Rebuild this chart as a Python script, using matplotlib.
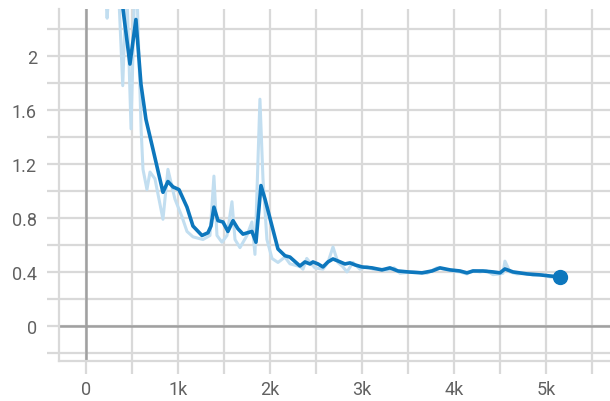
import matplotlib
matplotlib.use("Agg")
import matplotlib.pyplot as plt
from matplotlib.ticker import FixedLocator, FuncFormatter

plt.rcParams["font.family"] = ["Roboto", "DejaVu Sans"]

# Raw loss values per training step
raw_steps = [150, 230, 300, 360, 400, 440, 490, 540, 600, 620, 663, 696, 750, 837,
             891, 967, 1043, 1098, 1163, 1272, 1348, 1391, 1424, 1478, 1533, 1587,
             1620, 1674, 1750, 1804, 1837, 1891, 1924, 1967, 2022, 2087, 2163, 2217,
             2326, 2359, 2400, 2435, 2489, 2576, 2630, 2685, 2739, 2790, 2837, 2902,
             2978, 3054, 3120, 3217, 3272, 3350, 3413, 3554, 3707, 3815, 3900, 3957,
             4065, 4141, 4207, 4283, 4350, 4424, 4500, 4533, 4554, 4609, 4685, 4794,
             4859, 4950, 5043, 5152]
raw_loss = [3.2, 2.28, 3.0, 2.4, 1.78, 2.6, 1.46, 2.8, 1.45, 1.16, 1.01, 1.14, 1.09, 0.79,
            1.16, 0.94, 0.81, 0.70, 0.66, 0.64, 0.67, 1.11, 0.67, 0.62, 0.67, 0.92,
            0.64, 0.58, 0.67, 0.77, 0.53, 1.68, 1.09, 0.64, 0.50, 0.47, 0.51, 0.46,
            0.44, 0.42, 0.50, 0.47, 0.43, 0.42, 0.47, 0.585, 0.47, 0.44, 0.40, 0.47,
            0.42, 0.44, 0.42, 0.42, 0.41, 0.43, 0.39, 0.40, 0.39, 0.43, 0.42, 0.41,
            0.40, 0.385, 0.41, 0.40, 0.41, 0.38, 0.385, 0.39, 0.48, 0.40, 0.385, 0.39,
            0.375, 0.38, 0.363, 0.355]

# Smoothed loss curve
smooth_steps = [350, 402, 478, 543, 598, 652, 728, 837, 891, 946, 1011, 1098, 1163,
                1261, 1326, 1359, 1391, 1435, 1489, 1543, 1598, 1652, 1707, 1804,
                1848, 1902, 1946, 2022, 2087, 2163, 2217, 2326, 2380, 2435, 2467,
                2522, 2576, 2630, 2685, 2739, 2815, 2870, 2924, 3000, 3109, 3217,
                3304, 3391, 3500, 3652, 3761, 3848, 3957, 4065, 4141, 4207, 4315,
                4424, 4500, 4554, 4641, 4794, 4935, 5043, 5152]
smooth_loss = [2.7, 2.35, 1.94, 2.27, 1.79, 1.53, 1.31, 0.99, 1.07, 1.03, 1.01, 0.88, 0.74,
               0.67, 0.69, 0.74, 0.88, 0.78, 0.77, 0.70, 0.78, 0.72, 0.68, 0.70,
               0.62, 1.04, 0.94, 0.74, 0.57, 0.52, 0.51, 0.444, 0.474, 0.459, 0.474,
               0.459, 0.437, 0.474, 0.496, 0.481, 0.459, 0.467, 0.452, 0.437, 0.430,
               0.415, 0.430, 0.407, 0.400, 0.393, 0.407, 0.430, 0.415, 0.407, 0.393,
               0.407, 0.407, 0.400, 0.393, 0.422, 0.400, 0.385, 0.378, 0.370, 0.363]

x_ticks = [0, 1000, 2000, 3000, 4000, 5000]
y_ticks = [0, 0.4, 0.8, 1.2, 1.6, 2.0]

fig = plt.figure(figsize=(6.10, 4.02), dpi=100)
ax = fig.add_axes([59 / 610, 1 - 362 / 402, 1 - 59 / 610, (362 - 10) / 402])

ax.set_xlim(-293, 5696)
ax.set_ylim(-0.26, 2.348)

grid_c = "#d9d9d9"
ax.xaxis.set_major_locator(FixedLocator(x_ticks))
ax.yaxis.set_major_locator(FixedLocator(y_ticks))
ax.xaxis.set_minor_locator(FixedLocator([500, 1500, 2500, 3500, 4500, 5500]))
ax.yaxis.set_minor_locator(FixedLocator([-0.2, 0.2, 0.6, 1.0, 1.4, 1.8, 2.2]))
ax.grid(True, which="both", color=grid_c, linewidth=1.6)
ax.set_axisbelow(True)

ax.xaxis.set_major_formatter(FuncFormatter(lambda v, p: "0" if v == 0 else f"{int(v / 1000)}k"))
ax.yaxis.set_major_formatter(FuncFormatter(lambda v, p: f"{v:g}"))
ax.tick_params(which="both", direction="out", length=9, width=1.6, color=grid_c,
               labelsize=13, labelcolor="#616161")
ax.tick_params(axis="y", which="both", pad=7)
ax.tick_params(axis="x", which="both", pad=5)

for side in ["top", "right"]:
    ax.spines[side].set_visible(False)
for side in ["left", "bottom"]:
    ax.spines[side].set_color(grid_c)
    ax.spines[side].set_linewidth(1.6)

ax.axhline(0, color="#a0a0a0", linewidth=1.8, zorder=1.5)
ax.axvline(0, color="#a0a0a0", linewidth=1.8, zorder=1.5)

ax.plot(raw_steps, raw_loss, color="#c2def0", linewidth=2.2, zorder=2,
        solid_joinstyle="round")
ax.plot(smooth_steps, smooth_loss, color="#0d77bd", linewidth=2.6, zorder=3,
        solid_joinstyle="round", solid_capstyle="round")
ax.plot(smooth_steps[-1], smooth_loss[-1], "o", color="#0d77bd", markersize=10, zorder=4)

fig.savefig("out.png", dpi=100)
